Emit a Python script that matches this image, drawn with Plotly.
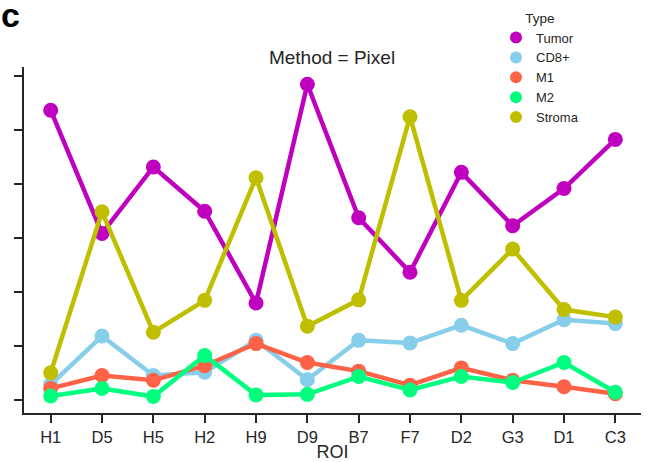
import plotly.graph_objects as go

rois = ["H1", "D5", "H5", "H2", "H9", "D9", "B7", "F7", "D2", "G3", "D1", "C3"]
tumor = [5.37, 3.09, 4.32, 3.50, 1.80, 5.85, 3.38, 2.37, 4.22, 3.23, 3.92, 4.83]
cd8 = [0.29, 1.19, 0.46, 0.52, 1.11, 0.38, 1.11, 1.06, 1.39, 1.05, 1.49, 1.42]
m1 = [0.22, 0.46, 0.37, 0.64, 1.05, 0.70, 0.54, 0.28, 0.60, 0.37, 0.25, 0.12]
m2 = [0.08, 0.22, 0.07, 0.83, 0.10, 0.11, 0.44, 0.19, 0.44, 0.33, 0.70, 0.15]
stroma = [0.51, 3.49, 1.26, 1.85, 4.12, 1.37, 1.86, 5.25, 1.85, 2.80, 1.68, 1.54]

series_names = ["Tumor", "CD8+", "M1", "M2", "Stroma"]
series_values = [tumor, cd8, m1, m2, stroma]
colors = ["#bf00bf", "#87ceeb", "#ff6347", "#00ff7f", "#bfbf00"]

font_family = "Liberation Sans, Arial, sans-serif"
text_color = "#262626"

fig = go.Figure()
for name, vals, col in zip(series_names, series_values, colors):
    fig.add_trace(go.Scatter(
        x=rois, y=vals, mode="lines+markers", name=name,
        line=dict(color=col, width=4.5),
        marker=dict(color=col, size=15),
        showlegend=False,
    ))
for name, col in zip(series_names, colors):
    fig.add_trace(go.Scatter(
        x=[None], y=[None], mode="markers", name=name,
        marker=dict(color=col, size=12), showlegend=True,
    ))

fig.update_layout(
    width=648, height=462,
    margin=dict(l=24, r=7, t=67, b=49, autoexpand=False),
    paper_bgcolor="white", plot_bgcolor="white",
    font=dict(family=font_family, color=text_color, size=14),
    title=dict(text="Method = Pixel", xref="container", x=332 / 648, xanchor="center",
               yref="container", y=1 - 57 / 462, yanchor="middle",
               font=dict(size=19, color=text_color)),
    legend=dict(
        title=dict(text="Type", font=dict(size=13.5), side="top center"),
        xref="container", x=496 / 648, xanchor="left",
        yref="container", y=1 - 5 / 462, yanchor="top",
        font=dict(size=13), bgcolor="rgba(0,0,0,0)",
        tracegroupgap=0, itemwidth=30,
    ),
    xaxis=dict(
        type="category", range=[-0.52, 11.5], automargin=False,
        showgrid=False, zeroline=False,
        showline=True, linecolor=text_color, linewidth=2,
        ticks="outside", ticklen=8, tickwidth=1.5, tickcolor=text_color,
        tickfont=dict(size=16.5),
        title=dict(text="ROI", font=dict(size=18), standoff=2),
    ),
    yaxis=dict(
        range=[-0.235, 6.17], tickvals=[0, 1, 2, 3, 4, 5, 6], automargin=False,
        showticklabels=False,
        showgrid=False, zeroline=False,
        showline=True, linecolor=text_color, linewidth=2,
        ticks="outside", ticklen=8, tickwidth=1.5, tickcolor=text_color,
    ),
    annotations=[dict(
        text="<b>c</b>", xref="paper", yref="paper",
        x=-25 / 617, xanchor="left", y=(413 - 15) / 346, yanchor="middle",
        showarrow=False, font=dict(size=34, color="black", family=font_family),
    )],
)

fig.write_html("out.html", config={"displayModeBar": False},
               post_script="document.body.style.margin='0';")
